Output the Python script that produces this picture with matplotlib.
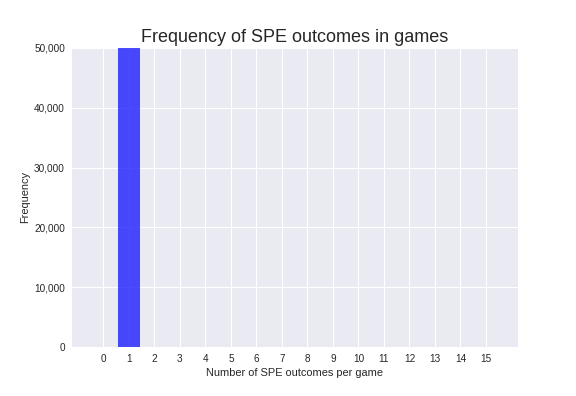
import matplotlib
matplotlib.use("Agg")
import matplotlib.pyplot as plt
from matplotlib.ticker import FuncFormatter

# data: number of SPE outcomes per game -> frequency
outcomes = list(range(16))
freq = [0, 61000, 0, 0, 0, 0, 0, 0, 0, 0, 0, 0, 0, 0, 0, 0]

plt.style.use("seaborn-v0_8-darkgrid")
plt.rcParams['font.family'] = ['Liberation Sans', 'DejaVu Sans']

fig = plt.figure(figsize=(8, 5.5), dpi=72)
ax = fig.add_subplot(111)
fig.subplots_adjust(left=0.125, right=0.899, top=0.879, bottom=0.124)

ax.bar(outcomes, freq, width=0.86, color='blue', alpha=0.7)

ax.set_title("Frequency of SPE outcomes in games", fontsize=18)
ax.set_xlabel("Number of SPE outcomes per game", fontsize=11)
ax.set_ylabel("Frequency", fontsize=11)
ax.set_xticks(outcomes)
ax.set_xlim(-1.23, 16.25)
ax.set_ylim(0, 50000)
ax.yaxis.set_major_formatter(FuncFormatter(lambda v, p: f"{int(v):,}"))
ax.tick_params(labelsize=10, pad=7)
ax.grid(True, color='white', linewidth=1)

plt.savefig("out.png", dpi=72)
